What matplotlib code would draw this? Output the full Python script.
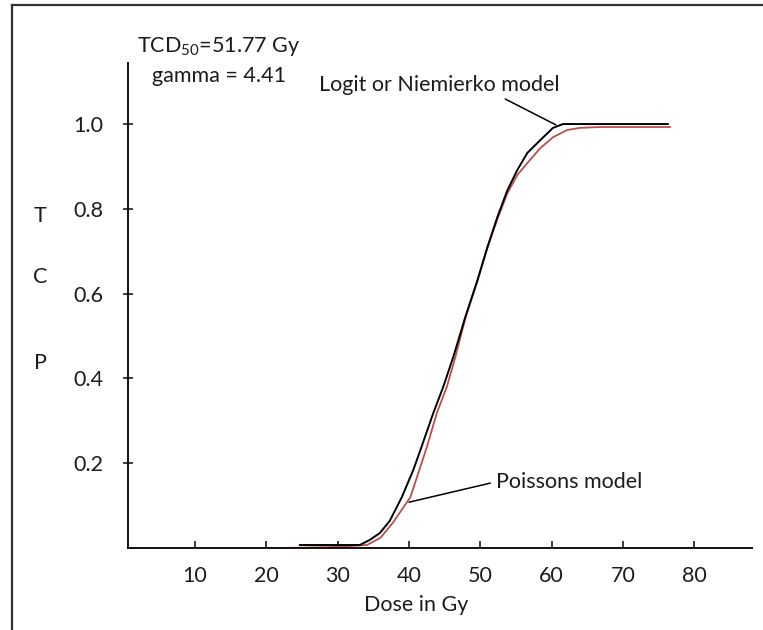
import matplotlib
matplotlib.use("Agg")
import matplotlib.pyplot as plt
from matplotlib.lines import Line2D

plt.rcParams['font.family'] = ['Lato', 'DejaVu Sans']
plt.rcParams['mathtext.fontset'] = 'custom'
plt.rcParams['mathtext.rm'] = 'Lato'
plt.rcParams['mathtext.it'] = 'Lato:italic'

# Logit / Niemierko curve (black)
dose_logit = [24.7, 33.1, 34.5, 35.9, 37.3, 39.0, 40.6, 41.6, 43.4, 44.8, 46.2, 47.9,
              49.6, 51.0, 52.4, 53.8, 55.2, 56.6, 58.4, 60.2, 61.6, 76.3]
tcp_logit = [0.007, 0.007, 0.019, 0.035, 0.064, 0.120, 0.184, 0.231, 0.318, 0.380, 0.450, 0.545,
             0.632, 0.710, 0.781, 0.844, 0.892, 0.932, 0.962, 0.991, 1.000, 1.000]

# Poisson curve (red)
dose_poisson = [22.4, 28.9, 34.1, 36.0, 37.8, 40.2, 42.5, 43.9, 45.3, 46.5, 47.9, 49.6,
                51.0, 52.4, 53.8, 55.2, 56.6, 58.4, 60.2, 62.2, 64.0, 66.8, 76.6]
tcp_poisson = [0.000, 0.002, 0.007, 0.024, 0.061, 0.120, 0.238, 0.318, 0.380, 0.450, 0.542, 0.630,
               0.708, 0.776, 0.837, 0.880, 0.908, 0.943, 0.969, 0.986, 0.991, 0.993, 0.993]

xticks = [10, 20, 30, 40, 50, 60, 70, 80]
yticks = [0.2, 0.4, 0.6, 0.8, 1.0]

txt = '#1c1c1c'
fs = 15.5

fig = plt.figure(figsize=(7.63, 6.30), dpi=100)
ax = fig.add_axes([0.1678, 0.1302, 0.9856 - 0.1678, 0.9 - 0.1302])

ax.plot(dose_poisson, tcp_poisson, color='#b8504c', lw=1.3, solid_joinstyle='round')
ax.plot(dose_logit, tcp_logit, color='black', lw=1.4, solid_joinstyle='round')

ax.set_xlim(0.6, 88.1)
ax.set_ylim(0, 1.144)
ax.set_xticks(xticks)
ax.set_xticklabels([str(t) for t in xticks])
ax.set_yticks(yticks)
ax.set_yticklabels([f"{t:.1f}" for t in yticks])
ax.spines['top'].set_visible(False)
ax.spines['right'].set_visible(False)
ax.spines['left'].set_linewidth(1.4)
ax.spines['bottom'].set_linewidth(1.4)
ax.spines['left'].set_color('#111111')
ax.spines['bottom'].set_color('#111111')
ax.tick_params(axis='x', direction='in', length=5, width=1.2, labelsize=fs, pad=13, colors=txt)
ax.tick_params(axis='y', direction='inout', length=7, width=1.2, labelsize=fs, pad=14, colors=txt)

ax.text(1.9, 1.184, "TCD$_{50}$=51.77 Gy", fontsize=fs, va='center', ha='left', color=txt, clip_on=False)
ax.text(4.0, 1.113, "gamma = 4.41", fontsize=fs, va='center', ha='left', color=txt, clip_on=False)
ax.text(27.4, 1.092, "Logit or Niemierko model", fontsize=fs, va='center', ha='left', color=txt)
ax.text(52.2, 0.156, "Poissons model", fontsize=fs, va='center', ha='left', color=txt)

ax.annotate('', xy=(60.6, 0.998), xytext=(53.5, 1.059),
            arrowprops=dict(arrowstyle='-', color='black', lw=1.1, shrinkA=0, shrinkB=0))
ax.annotate('', xy=(40.0, 0.108), xytext=(51.4, 0.153),
            arrowprops=dict(arrowstyle='-', color='black', lw=1.1, shrinkA=0, shrinkB=0))

# vertical T C P label
for letter, yy in zip(["T", "C", "P"], [216, 277, 363]):
    fig.text(40 / 763, 1 - yy / 630, letter, fontsize=fs, ha='center', va='center', color=txt)
fig.text(416 / 763, 1 - 605 / 630, "Dose in Gy", fontsize=fs, ha='center', va='center', color=txt)

# frame from the screenshot
fig.add_artist(Line2D([12 / 763, 12 / 763], [0, 1 - 5 / 630], color='#333333', lw=1.6))
fig.add_artist(Line2D([12 / 763, 1], [1 - 5 / 630, 1 - 5 / 630], color='#333333', lw=1.6))

fig.savefig("out.png", dpi=100)
